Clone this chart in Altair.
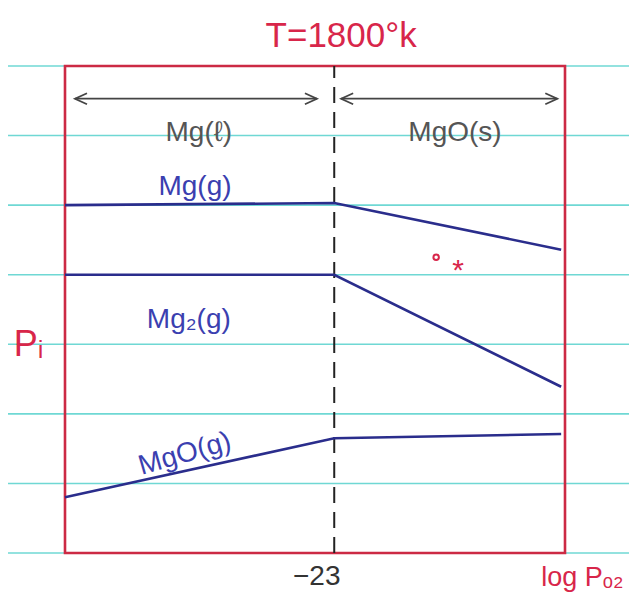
import altair as alt
import pandas as pd

# ---- data ----
xs = [-30.0, -23.0, -17.1]                    # log PO2 breakpoints
mg_g = [5.00, 5.03, 4.36]                      # Mg(g)
mg2_g = [4.00, 4.00, 2.39]                     # Mg2(g)
mgo_g = [0.80, 1.65, 1.71]                     # MgO(g)
paper_lines = [0, 1, 2, 3, 4, 5, 6, 7]         # notebook ruling
break_x = -23.0
x_ticks = [break_x]
x_tick_label = "−23"

series_names = ["Mg(g)", "Mg₂(g)", "MgO(g)"]
series_vals = [mg_g, mg2_g, mgo_g]

lines_df = pd.DataFrame(
    [{"series": n, "x": x, "y": y, "o": i}
     for n, vals in zip(series_names, series_vals)
     for i, (x, y) in enumerate(zip(xs, vals))]
)

FONT = "Liberation Sans"
X = alt.Scale(domain=[-30, -17], nice=False, zero=False)
Y = alt.Scale(domain=[0, 7], nice=False, zero=False)
XAX = alt.Axis(values=x_ticks, labelExpr=f"'{x_tick_label}'", ticks=False, domain=False,
               grid=False, labelFontSize=28, labelColor="#333333", labelFont=FONT,
               labelPadding=9, labelOffset=-18, title=None)


def xe(field="x"):
    return alt.X(f"{field}:Q", scale=X, axis=XAX)


def ye(field="y"):
    return alt.Y(f"{field}:Q", scale=Y, axis=None)


# notebook paper lines (extend across the whole page)
paper_df = pd.DataFrame({"y": paper_lines, "x": [-31.7] * 8, "x2": [-15.1] * 8})
paper = alt.Chart(paper_df).mark_rule(color="#6fd8d4", strokeWidth=1.6).encode(
    x=xe(), x2="x2", y=ye()
)

# red frame
frame_df = pd.DataFrame({"x": [-30], "x2": [-17], "y": [0], "y2": [7]})
frame = alt.Chart(frame_df).mark_rect(fill=None, fillOpacity=0, stroke="#cc2a44",
                                      strokeWidth=2.6).encode(
    x=xe(), x2="x2", y=ye(), y2="y2"
)

# dashed vertical line at log PO2 = -23
dash_df = pd.DataFrame({"x": [break_x], "y": [0], "y2": [7]})
dashed = alt.Chart(dash_df).mark_rule(color="#222222", strokeWidth=2, strokeDash=[16, 9]).encode(
    x=xe(), y=ye(), y2="y2"
)

# blue partial-pressure lines
lines = alt.Chart(lines_df).mark_line(color="#2a2d8c", strokeWidth=2.6).encode(
    x=xe(), y=ye(), detail="series:N", order="o:Q"
)

# double-headed arrows
arrow_y = 6.53
arrows_df = pd.DataFrame({"x": [-29.74, -22.82], "x2": [-23.45, -17.2], "y": [arrow_y] * 2})
arrow_lines = alt.Chart(arrows_df).mark_rule(color="#444444", strokeWidth=1.8).encode(
    x=xe(), x2="x2", y=ye()
)
left_heads = pd.DataFrame({"x": [-29.74, -22.82], "y": [arrow_y] * 2})
right_heads = pd.DataFrame({"x": [-23.45, -17.2], "y": [arrow_y] * 2})
lh = alt.Chart(left_heads).mark_point(shape="M2.4,-1.1L0,0L2.4,1.1", filled=False,
                                       size=100, color="#444444", strokeWidth=1.8, opacity=1).encode(
    x=xe(), y=ye())
rh = alt.Chart(right_heads).mark_point(shape="M-2.4,-1.1L0,0L-2.4,1.1", filled=False,
                                        size=100, color="#444444", strokeWidth=1.8, opacity=1).encode(
    x=xe(), y=ye())


def label(df, color, size, angle=0, align="center"):
    kw = dict(color=color, fontSize=size, font=FONT, align=align, baseline="middle")
    if angle:
        kw["angle"] = angle
    return alt.Chart(df).mark_text(**kw).encode(x=xe(), y=ye(), text="t:N")


phase_df = pd.DataFrame({"t": ["Mg(ℓ)", "MgO(s)"], "x": [-26.52, -19.86], "y": [6.04, 6.04]})
phase = label(phase_df, "#555555", 28)

series_lbl_df = pd.DataFrame({"t": ["Mg(g)", "Mg₂(g)"], "x": [-26.62, -26.78], "y": [5.26, 3.35]})
series_lbl = label(series_lbl_df, "#3b3fb0", 28)
mgo_lbl_df = pd.DataFrame({"t": ["MgO(g)"], "x": [-26.88], "y": [1.42]})
mgo_lbl = label(mgo_lbl_df, "#3b3fb0", 28, angle=344)

title_df = pd.DataFrame({"t": ["T=1800°k"], "x": [-22.82], "y": [7.43]})
title = label(title_df, "#d8264a", 35)

pi_df = pd.DataFrame({"t": ["Pᵢ"], "x": [-30.95], "y": [2.99]})
pi = label(pi_df, "#d8264a", 36)

xt_df = pd.DataFrame({"t": ["log Pₒ₂"], "x": [-16.55], "y": [-0.36]})
xt = label(xt_df, "#d8264a", 27)

# red stray marks
dot_df = pd.DataFrame({"x": [-20.35], "y": [4.25]})
dot = alt.Chart(dot_df).mark_point(color="#d8264a", size=30, filled=False, strokeWidth=2,
                                    opacity=1).encode(x=xe(), y=ye())
star_df = pd.DataFrame({"t": ["*"], "x": [-19.78], "y": [4.05]})
star = label(star_df, "#d8264a", 30)

chart = alt.layer(
    paper, frame, dashed, lines, arrow_lines, lh, rh, phase, series_lbl, mgo_lbl,
    title, pi, xt, dot, star
).properties(
    width=500, height=487,
    autosize=alt.AutoSizeParams(type="none"),
    padding={"left": 57, "top": 58, "right": 64, "bottom": 41},
    background="white",
).configure_view(strokeWidth=0)

chart.save("out.html", embed_options={"renderer": "svg", "actions": False})
